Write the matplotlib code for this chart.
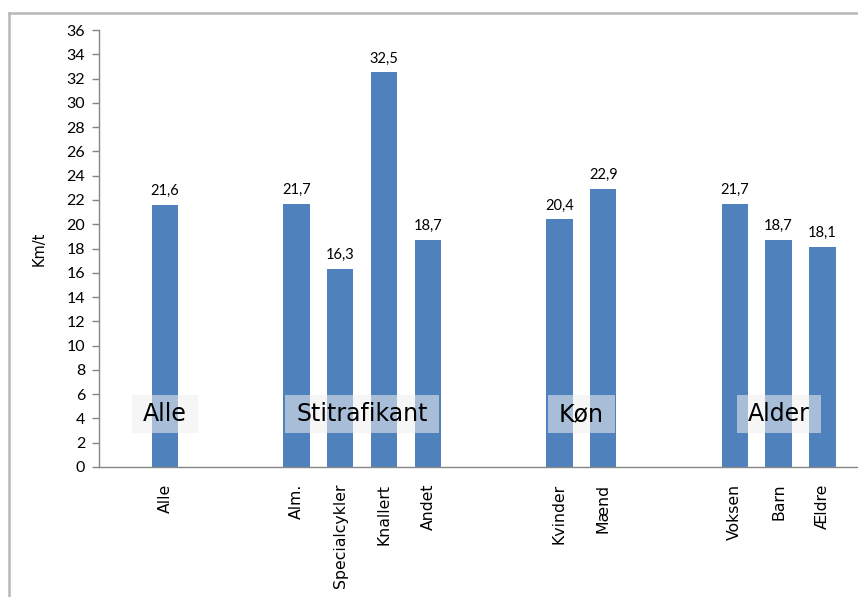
import numpy as np
import matplotlib
matplotlib.use("Agg")
import matplotlib.pyplot as plt
from matplotlib.lines import Line2D
from matplotlib.patches import Rectangle

categories = ["", "Alle", "", "", "Alm.", "Specialcykler", "Knallert", "Andet",
              "", "", "Kvinder", "Mænd", "", "", "Voksen", "Barn", "Ældre"]
values = [np.nan, 21.6, np.nan, np.nan, 21.7, 16.3, 32.5, 18.7,
          np.nan, np.nan, 20.4, 22.9, np.nan, np.nan, 21.7, 18.7, 18.1]
groups = ["Alle", "Stitrafikant", "Køn", "Alder"]
group_members = [["Alle"], ["Alm.", "Specialcykler", "Knallert", "Andet"],
                 ["Kvinder", "Mænd"], ["Voksen", "Barn", "Ældre"]]
ylabel = "Km/t"
yticks = list(range(0, 37, 2))

W, H = 858, 597
fig = plt.figure(figsize=(W/100, H/100), dpi=100)
ax = fig.add_axes([99.2/W, 1-467/H, (W-99.2)/W, (467-30)/H])

x = np.arange(len(categories))
vals = np.array(values, dtype=float)
mask = ~np.isnan(vals)
ax.bar(x[mask], vals[mask], width=0.6, color="#4F81BD", zorder=2)

for xi, v in zip(x[mask], vals[mask]):
    ax.annotate(f"{v:.1f}".replace(".", ","), (xi, v), xytext=(0, 5),
                textcoords="offset points", ha="center", va="bottom",
                fontsize=10.5, family="Lato")

ax.set_xlim(-0.5, -0.5 + (W-99.2)/43.83)
ax.set_ylim(0, 36)
ax.set_yticks(yticks)
ax.set_yticklabels([str(t) for t in yticks], fontsize=11.5, family="Lato")
ax.set_xticks(x[mask])
ax.set_xticklabels([c for c, m in zip(categories, mask) if m], rotation=90,
                   fontsize=11.3, family="DejaVu Sans")
ax.tick_params(axis="x", length=0, pad=12)
ax.tick_params(axis="y", length=5, color="#868686", width=1, pad=5)
for s in ["top", "right"]:
    ax.spines[s].set_visible(False)
for s in ["left", "bottom"]:
    ax.spines[s].set_color("#868686")
    ax.spines[s].set_linewidth(1)

ax.set_ylabel(ylabel, fontsize=10.5, family="DejaVu Sans", labelpad=14)

texts = []
for g, members in zip(groups, group_members):
    idx = [categories.index(m) for m in members]
    cx = np.mean(idx)
    t = ax.text(cx, 4.37, g, ha="center", va="center", fontsize=17,
                family="DejaVu Sans", zorder=4)
    texts.append(t)

fig.canvas.draw()
renderer = fig.canvas.get_renderer()
for t in texts:
    bb = t.get_window_extent(renderer)
    cx_pix = (bb.x0 + bb.x1) / 2
    cy_pix = ax.transData.transform((0, 4.37))[1]
    w = bb.width + 22
    h = 38
    rect = Rectangle((cx_pix - w/2, cy_pix - h/2), w, h, transform=None,
                     facecolor="#f0f0f0", edgecolor="none", alpha=0.55,
                     zorder=3)
    ax.add_artist(rect)

# chart-area frame
fig.add_artist(Line2D([9/W, 9/W], [0, 1-13/H], transform=fig.transFigure,
                      color="#b8b8b8", lw=1.8))
fig.add_artist(Line2D([9/W, 1], [1-13/H, 1-13/H], transform=fig.transFigure,
                      color="#b8b8b8", lw=1.8))

fig.savefig("out.png", dpi=100)
